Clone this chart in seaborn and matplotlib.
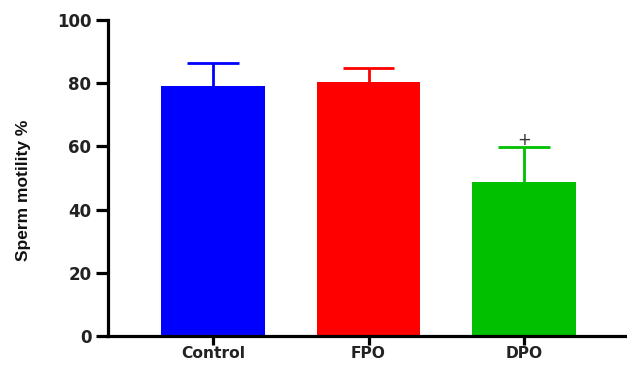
import matplotlib
matplotlib.use("Agg")
import matplotlib.pyplot as plt
import seaborn as sns
import pandas as pd

groups = ["Control", "FPO", "DPO"]
motility = [79.1, 80.3, 48.8]
sem = [7.4, 4.5, 10.9]
colors = ["#0000FF", "#FF0000", "#00C000"]
yticks = [0, 20, 40, 60, 80, 100]

sns.set_theme(style="ticks")
plt.rcParams["font.family"] = ["DejaVu Sans"]

df = pd.DataFrame({"group": groups, "motility": motility})

bar_width = 0.667

fig = plt.figure(figsize=(6.27, 3.65), dpi=100)
ax = fig.add_axes([108 / 627, 1 - 336 / 365, (627 - 108) / 627, 316 / 365])

sns.barplot(data=df, x="group", y="motility", hue="group", palette=colors,
            order=groups, hue_order=groups, errorbar=None, width=bar_width,
            legend=False, ax=ax, saturation=1, zorder=2, linewidth=0)

# upper-only error bars (stem + cap) in the bar colour
for i, (m, s, c) in enumerate(zip(motility, sem, colors)):
    ax.vlines(i, m, m + s, color=c, linewidth=2.0, zorder=1)
    ax.hlines(m + s, i - bar_width / 4, i + bar_width / 4, color=c,
              linewidth=2.0, zorder=1)

# significance mark above DPO
ax.text(2, motility[2] + sem[2] + 2.2, "+", ha="center", va="center",
        fontsize=12, color="#333333")

ax.set_ylim(0, 100)
ax.set_xlim(-0.673, 2.66)
ax.set_yticks(yticks)
ax.set_yticklabels([str(t) for t in yticks])

for side in ["top", "right"]:
    ax.spines[side].set_visible(False)
for side in ["left", "bottom"]:
    ax.spines[side].set_linewidth(2.3)
    ax.spines[side].set_color("black")

ax.tick_params(axis="y", length=9, width=2.3, direction="out", pad=3,
               labelsize=12, colors="black", labelcolor="#222222")
ax.tick_params(axis="x", length=6.5, width=2.3, direction="out", pad=1,
               labelsize=11.2, colors="black", labelcolor="#222222")
for lab in ax.get_yticklabels() + ax.get_xticklabels():
    lab.set_fontweight("bold")

ax.set_xlabel("")
ax.set_ylabel("Sperm motility %", fontsize=12.5, fontweight="bold",
              family=["Liberation Sans", "DejaVu Sans"],
              color="#111111", va="center")
ax.yaxis.set_label_coords(-0.163, 0.46)

fig.savefig("out.png", dpi=100, facecolor="white")
